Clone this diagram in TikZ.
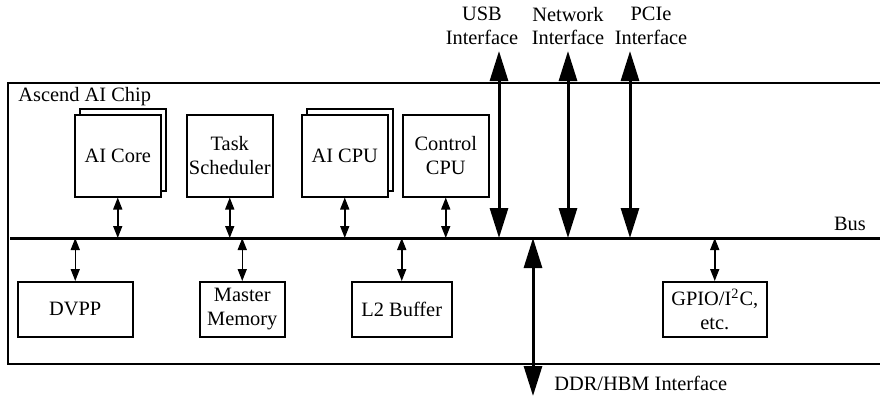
\documentclass[tikz,border=0pt]{standalone}
\usepackage{fontspec}
\setmainfont{Liberation Serif}
\usetikzlibrary{arrows.meta}

\tikzset{
  unit/.style={draw, line width=0.75pt, fill=white, align=center, inner sep=1pt},
  topunit/.style={unit, minimum width=43pt, minimum height=41pt, anchor=north west},
  lowunit/.style={unit, minimum height=27.5pt, anchor=north west},
  smallarr/.style={line width=0.75pt, {Triangle[width=4.5pt,length=6pt]}-{Triangle[width=4.5pt,length=6pt]}},
  bigarr/.style={line width=1.5pt, {Triangle[width=9pt,length=15pt]}-{Triangle[width=9pt,length=15pt]}},
  ifacelabel/.style={align=center, inner sep=0pt}
}

\begin{document}
\begin{tikzpicture}[x=0.5pt, y=-0.5pt, font=\fontsize{10.2}{11.8}\selectfont]
  \useasboundingbox (0,0) rectangle (880,397);

  % Chip outline, open to the right
  \draw[line width=0.75pt] (880,83) -- (8,83) -- (8,364) -- (880,364);
  \node[anchor=west, inner sep=0pt] (chip) at (18,97) {Ascend AI Chip};

  % Bus
  \coordinate (busL) at (10,238);
  \coordinate (busR) at (880,238);
  \draw[line width=1.5pt] (busL) -- (busR);
  \node[inner sep=0pt] (buslabel) at (850,224) {Bus};

  % Units above the bus (AI Core and AI CPU are stacked)
  \node[topunit] (aicoreback) at (79,108) {};
  \node[topunit] (aicore) at (74,114) {AI Core};
  \node[topunit] (sched) at (186,114) {Task\\Scheduler};
  \node[topunit] (aicpuback) at (306,108) {};
  \node[topunit] (aicpu) at (301,114) {AI CPU};
  \node[topunit] (ctrl) at (402,114) {Control\\CPU};

  % Units below the bus
  \node[lowunit, minimum width=57.5pt] (dvpp) at (17,281) {DVPP};
  \node[lowunit, minimum width=42.5pt] (mem) at (199,281) {Master\\Memory};
  \node[lowunit, minimum width=50pt] (l2) at (351,281) {L2 Buffer};
  \node[lowunit, minimum width=52pt] (gpio) at (662,281) {GPIO/I\textsuperscript{2}C,\\etc.};

  % Links to the bus
  \foreach \u in {aicore, sched, aicpu, ctrl}
    \draw[smallarr] (\u.south) -- (\u.south |- busL);
  \foreach \u in {dvpp, mem, l2, gpio}
    \draw[smallarr] (\u.north |- busL) -- (\u.north);

  % External interfaces
  \node[ifacelabel] (usb) at (482,26) {USB\\Interface};
  \node[ifacelabel] (net) at (568,26) {Network\\Interface};
  \node[ifacelabel] (pcie) at (651,26) {PCIe\\Interface};
  \coordinate (usbend) at (499,51);
  \coordinate (netend) at (568,51);
  \coordinate (pcieend) at (630,51);
  \draw[bigarr] (usbend) -- (usbend |- busL);
  \draw[bigarr] (netend) -- (netend |- busL);
  \draw[bigarr] (pcieend) -- (pcieend |- busL);

  % Memory interface
  \coordinate (ddrtop) at (533,238);
  \coordinate (ddrend) at (533,396);
  \draw[bigarr] (ddrtop) -- (ddrend);
  \node[anchor=west, inner sep=0pt] (ddr) at (554,383) {DDR/HBM Interface};

\end{tikzpicture}
\end{document}
